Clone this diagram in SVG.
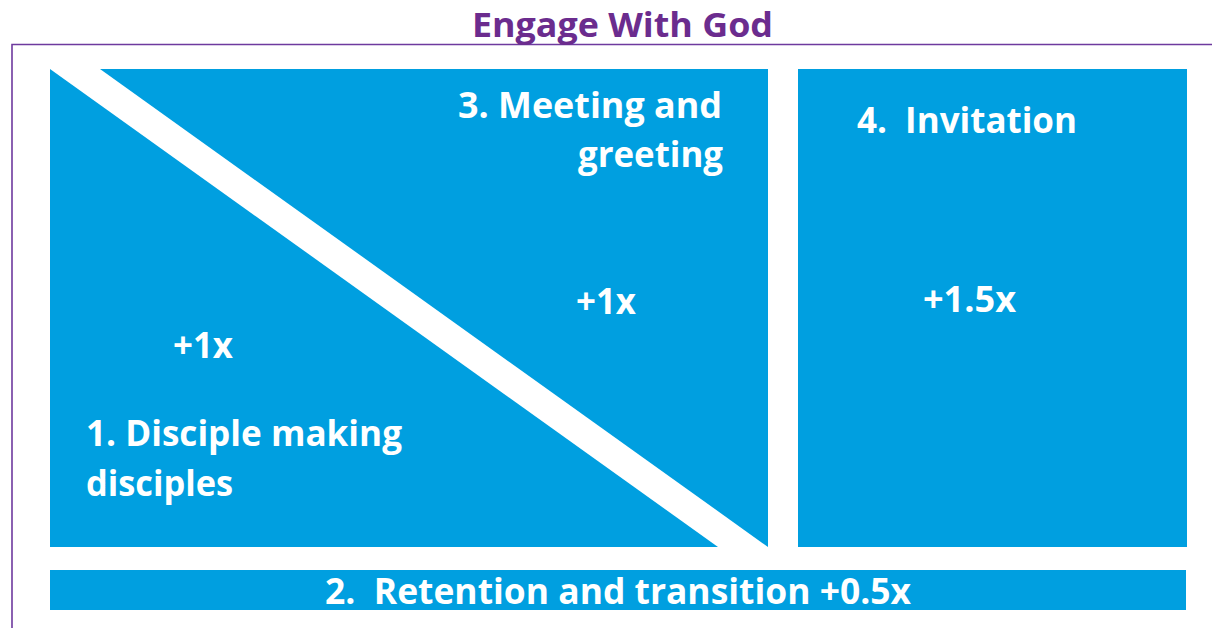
<svg xmlns="http://www.w3.org/2000/svg" width="1212" height="628" viewBox="0 0 1212 628">
<style>
.blk{fill:#009FE0}
.t{font-family:"Open Sans","Liberation Sans",sans-serif;font-weight:bold;fill:#ffffff;font-size:35px;white-space:pre}
.title{font-family:"Open Sans","Liberation Sans",sans-serif;font-weight:bold;fill:#6B2C8E;font-size:34px}
.frame{fill:none;stroke:#6E3A9E;stroke-width:1.6}
</style>
<rect width="1212" height="628" fill="#ffffff"/>
<g id="frame">
<path class="frame" d="M12,628 V44.5 H1212"/>
<text class="title" x="472" y="37" textLength="301" lengthAdjust="spacingAndGlyphs">Engage With God</text>
</g>
<g id="node1">
<polygon class="blk" points="50,69 50,547 718,547"/>
<text class="t" x="86" y="446" textLength="316" lengthAdjust="spacingAndGlyphs">1. Disciple making</text>
<text class="t" x="86" y="496" textLength="147" lengthAdjust="spacingAndGlyphs">disciples</text>
<text class="t" x="173" y="358" textLength="60" lengthAdjust="spacingAndGlyphs">+1x</text>
</g>
<g id="node3">
<polygon class="blk" points="100,69 768,69 768,547"/>
<text class="t" x="458" y="118" textLength="264" lengthAdjust="spacingAndGlyphs">3. Meeting and</text>
<text class="t" x="578" y="167" textLength="145" lengthAdjust="spacingAndGlyphs">greeting</text>
<text class="t" x="576" y="314" textLength="60" lengthAdjust="spacingAndGlyphs">+1x</text>
</g>
<g id="node4">
<rect class="blk" x="798" y="69" width="389" height="478"/>
<text class="t" x="857" y="133" textLength="220" lengthAdjust="spacingAndGlyphs" xml:space="preserve">4.  Invitation</text>
<text class="t" x="923" y="312" textLength="93" lengthAdjust="spacingAndGlyphs">+1.5x</text>
</g>
<g id="node2">
<rect class="blk" x="50" y="570" width="1136" height="40"/>
<text class="t" x="325" y="604" textLength="586" lengthAdjust="spacingAndGlyphs" xml:space="preserve">2.  Retention and transition +0.5x</text>
</g>
<g id="connectors"/>
</svg>
